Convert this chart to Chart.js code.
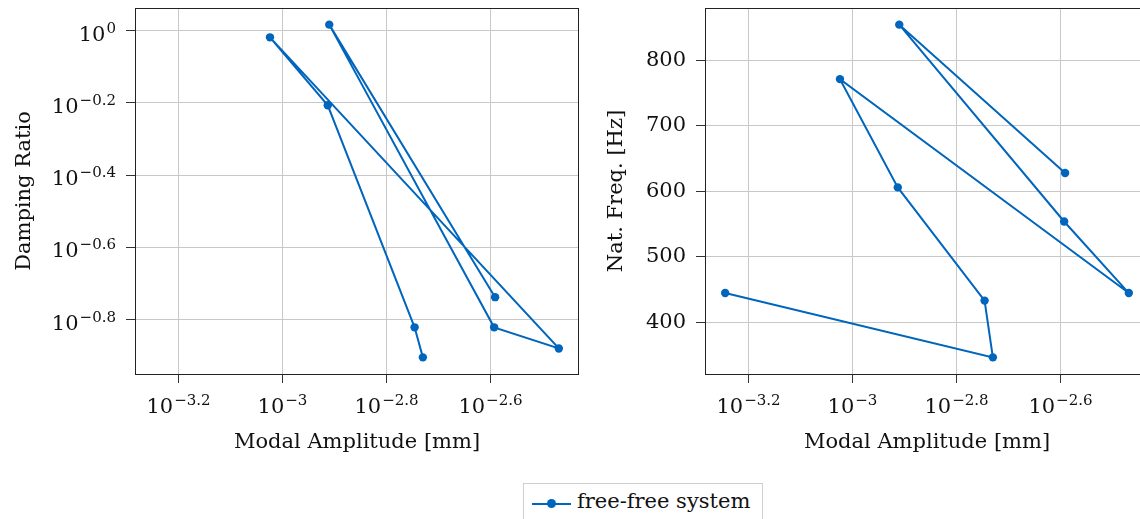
<!DOCTYPE html>
<html>
<head>
<meta charset="utf-8">
<script src="https://cdn.jsdelivr.net/npm/chart.js@4.4.0/dist/chart.umd.min.js"></script>
<style>
  html, body { margin: 0; padding: 0; background: #fff; overflow: hidden; width: 1140px; height: 519px; }
  #left { position: absolute; left: 0; top: 0; }
  #right { position: absolute; left: 570px; top: 0; }
  .legend {
    position: absolute; left: 523px; top: 483px; width: 240px; height: 44px;
    border: 1px solid #cfcfcf; box-sizing: border-box; background: #fff;
    font-family: "DejaVu Serif", serif; font-size: 21px; color: #111;
  }
  .legend .line { position: absolute; left: 8px; top: 19px; width: 39px; height: 2px; background: #0065bd; }
  .legend .dot { position: absolute; left: 23px; top: 15px; width: 9px; height: 9px; border-radius: 50%; background: #0065bd; }
  .legend .txt { position: absolute; left: 53px; top: 7px; line-height: 21px; white-space: nowrap; }
</style>
</head>
<body>
<canvas id="left" width="590" height="470"></canvas>
<canvas id="right" width="600" height="470"></canvas>
<div class="legend"><span class="line"></span><span class="dot"></span><span class="txt">free-free system</span></div>
<script>
// values (one entry per mode)
const amplitude = [0.000569, 0.001862, 0.001795, 0.001222, 0.000946, 0.003400, 0.002553, 0.001230, 0.002564];
const damping = [null, 0.1247, 0.1510, 0.6214, 0.9583, 0.1320, 0.1510, 1.0390, 0.1830];
const natFreq = [445, 347, 433.5, 606, 771, 445, 554, 854, 628];

// tick positions (exponents for the log axes)
const ampTickExp = [-3.2, -3, -2.8, -2.6];
const dampTickExp = [0, -0.2, -0.4, -0.6, -0.8];
const freqTicks = [400, 500, 600, 700, 800];

const family = '"DejaVu Serif", serif';
const blue = '#0065bd';
const gridColor = '#c8c8c8';
const textColor = '#111';

// pgfplots-like limits: 5% enlargement of the data range
function logLimits(vals) {
  const l = vals.filter(v => v != null).map(v => Math.log10(v));
  const lo = Math.min(...l), hi = Math.max(...l), pad = (hi - lo) * 0.05;
  return { min: Math.pow(10, lo - pad), max: Math.pow(10, hi + pad) };
}
function linLimits(vals) {
  const lo = Math.min(...vals), hi = Math.max(...vals), pad = (hi - lo) * 0.05;
  return { min: lo - pad, max: hi + pad };
}

function drawPower(ctx, exp, x, base, align) {
  const e = String(exp).replace('-', '\u2212');
  ctx.font = '21px ' + family;
  const w1 = ctx.measureText('10').width;
  ctx.font = '15px ' + family;
  const w2 = ctx.measureText(e).width;
  const x0 = align === 'center' ? x - (w1 + w2 + 1) / 2 : x - w1 - w2 - 1;
  ctx.fillStyle = textColor;
  ctx.textAlign = 'left';
  ctx.textBaseline = 'alphabetic';
  ctx.font = '21px ' + family;
  ctx.fillText('10', x0, base);
  ctx.font = '15px ' + family;
  ctx.fillText(e, x0 + w1 + 1, base - 8);
}

// frame + 10^x tick labels
const powerLabels = {
  id: 'powerLabels',
  afterDraw(chart, args, opts) {
    const ctx = chart.ctx;
    const { left, top, right, bottom } = chart.chartArea;
    ctx.save();
    ctx.strokeStyle = '#222';
    ctx.lineWidth = 1;
    ctx.strokeRect(Math.round(left) + 0.5, Math.round(top) + 0.5, Math.round(right - left) - 1, Math.round(bottom - top));
    const xs = chart.scales.x;
    ampTickExp.forEach(e => {
      drawPower(ctx, e, xs.getPixelForValue(Math.pow(10, e)), bottom + 39, 'center');
    });
    if (opts.logY) {
      const ys = chart.scales.y;
      dampTickExp.forEach(e => {
        drawPower(ctx, e, left - 19, ys.getPixelForValue(Math.pow(10, e)) + 10, 'right');
      });
    }
    ctx.restore();
  }
};

const ampLim = logLimits(amplitude);

function xAxis() {
  return {
    type: 'logarithmic',
    min: ampLim.min,
    max: ampLim.max,
    afterBuildTicks: s => { s.ticks = ampTickExp.map(e => ({ value: Math.pow(10, e) })); },
    afterFit: s => { s.height = 96; s.paddingLeft = 0; s.paddingRight = 0; },
    border: { display: false },
    grid: { color: gridColor, tickColor: '#333', tickLength: 9 },
    ticks: { autoSkip: false, callback: () => '' },
    title: {
      display: true, text: 'Modal Amplitude [mm]', color: textColor,
      font: { family: family, size: 21 }, padding: { top: 0, bottom: 15 }
    }
  };
}

function points(yVals) {
  return amplitude.map((a, i) => ({ x: a, y: yVals[i] }));
}

function dataset(yVals) {
  return {
    label: 'free-free system',
    data: points(yVals),
    borderColor: blue,
    backgroundColor: blue,
    borderWidth: 2,
    pointRadius: 4.2,
    pointBorderWidth: 0,
    pointBackgroundColor: blue,
    tension: 0,
    spanGaps: false
  };
}

const common = {
  responsive: false,
  animation: false,
  events: [],
  plugins: { legend: { display: false }, tooltip: { enabled: false } }
};

// Left: damping ratio
const dampLim = logLimits(damping);
new Chart(document.getElementById('left').getContext('2d'), {
  type: 'line',
  data: { datasets: [dataset(damping)] },
  options: {
    ...common,
    layout: { padding: { top: 8, right: 11, left: 0, bottom: 0 } },
    plugins: { ...common.plugins, powerLabels: { logY: true } },
    scales: {
      x: xAxis(),
      y: {
        type: 'logarithmic',
        min: dampLim.min,
        max: dampLim.max,
        afterBuildTicks: s => { s.ticks = dampTickExp.map(e => ({ value: Math.pow(10, e) })); },
        afterFit: s => { s.width = 135; s.paddingTop = 0; s.paddingBottom = 0; },
        border: { display: false },
        grid: { color: gridColor, tickColor: '#333', tickLength: 9 },
        ticks: { autoSkip: false, callback: () => '' },
        title: {
          display: true, text: 'Damping Ratio', color: textColor,
          font: { family: family, size: 21 }, padding: { top: 12, bottom: 0 }
        }
      }
    }
  },
  plugins: [powerLabels]
});

// Right: natural frequency
const freqLim = linLimits(natFreq);
new Chart(document.getElementById('right').getContext('2d'), {
  type: 'line',
  data: { datasets: [dataset(natFreq)] },
  options: {
    ...common,
    layout: { padding: { top: 8, right: 21, left: 0, bottom: 0 } },
    plugins: { ...common.plugins, powerLabels: { logY: false } },
    scales: {
      x: xAxis(),
      y: {
        type: 'linear',
        min: freqLim.min,
        max: freqLim.max,
        afterBuildTicks: s => { s.ticks = freqTicks.map(v => ({ value: v })); },
        afterFit: s => { s.width = 135; s.paddingTop = 0; s.paddingBottom = 0; },
        border: { display: false },
        grid: { color: gridColor, tickColor: '#333', tickLength: 9 },
        ticks: { autoSkip: false, padding: 10, color: textColor, font: { family: family, size: 21 } },
        title: {
          display: true, text: 'Nat. Freq. [Hz]', color: textColor,
          font: { family: family, size: 21 }, padding: { top: 34, bottom: 0 }
        }
      }
    }
  },
  plugins: [powerLabels]
});
</script>
</body>
</html>
